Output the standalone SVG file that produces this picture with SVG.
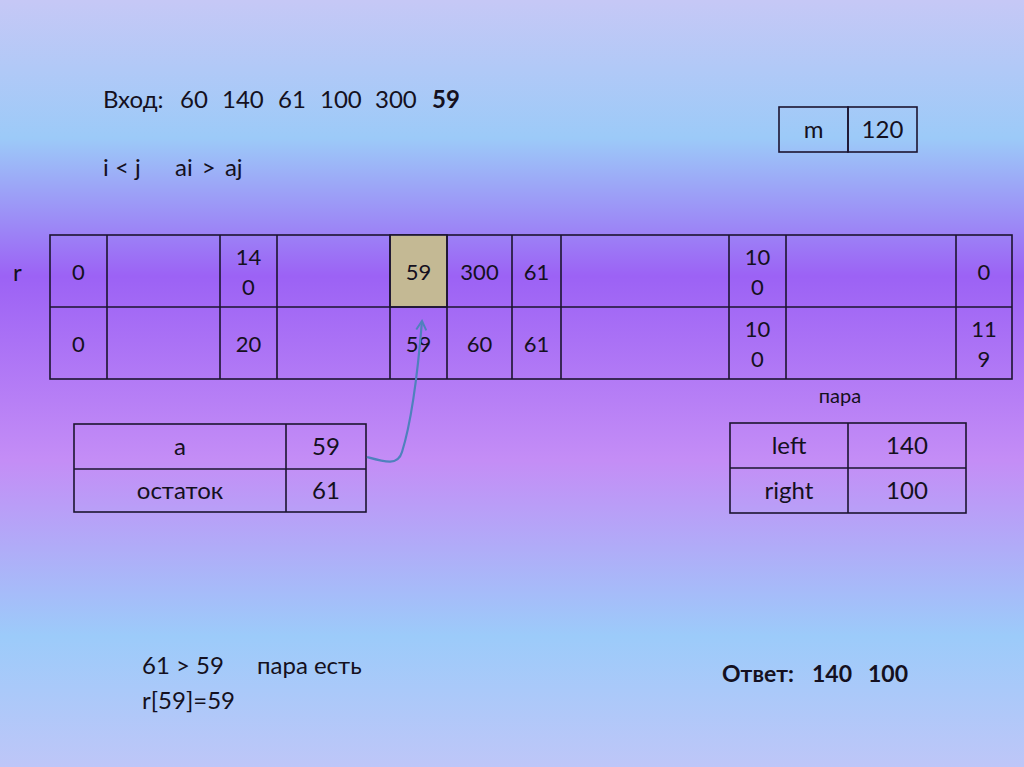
<svg xmlns="http://www.w3.org/2000/svg" width="1024" height="767" viewBox="0 0 1024 767">
<defs>
<linearGradient id="bg" x1="0" y1="0" x2="0" y2="1">
<stop offset="0" stop-color="#c6c8f6"/>
<stop offset="0.18" stop-color="#9ccaf8"/>
<stop offset="0.36" stop-color="#9c62f5"/>
<stop offset="0.60" stop-color="#c48df6"/>
<stop offset="0.83" stop-color="#9ccbfa"/>
<stop offset="1" stop-color="#bec6f8"/>
</linearGradient>
<marker id="ah" viewBox="0 0 12 12" refX="10" refY="6" markerWidth="12" markerHeight="12" markerUnits="userSpaceOnUse" orient="auto">
<path d="M1,1 L10,6 L1,11" fill="none" stroke="#4f81bd" stroke-width="2"/>
</marker>
<style>
text{font-family:Lato,"Open Sans","Liberation Sans",sans-serif;fill:#141020}
.cell{fill:none;stroke:#1c1430;stroke-width:1.6}
.hl{fill:#c4b994;stroke:#1c1430;stroke-width:1.6}
.c{font-size:22px;text-anchor:middle}
.t{font-size:24px;text-anchor:middle}
.h{font-size:24px}
.f{font-size:24px}
.b{font-weight:bold}
.conn{fill:none;stroke:#4f81bd;stroke-width:2.2}
</style>
</defs>
<rect x="0" y="0" width="1024" height="767" fill="url(#bg)"/>

<g id="header">
<text class="h" y="108"><tspan x="103">Вход:</tspan><tspan x="180">60</tspan><tspan x="222">140</tspan><tspan x="278">61</tspan><tspan x="320">100</tspan><tspan x="375">300</tspan><tspan x="432" font-weight="bold">59</tspan></text>
<text class="h" y="176"><tspan x="103">i &lt; j</tspan><tspan x="175" word-spacing="3">ai &gt; aj</tspan></text>
</g>

<g id="m-table">
<rect class="cell" x="779" y="107" width="69" height="45"/>
<rect class="cell" x="848" y="107" width="69" height="45"/>
<text class="t" x="813.5" y="138">m</text>
<text class="t" x="882.5" y="138">120</text>
</g>

<g id="r-label">
<text style="font-size:24px" x="13" y="281">r</text>
</g>

<g id="r-table">
<rect class="cell" x="50" y="235" width="962" height="144"/>
<rect class="hl" x="390" y="235" width="57" height="72"/>
<path class="cell" d="M50,307H1012M107,235V379M220,235V379M277,235V379M390,235V379M447,235V379M512,235V379M561,235V379M729,235V379M786,235V379M956,235V379"/>
<text class="c" x="78.5" y="280">0</text>
<text class="c" x="248.5" y="265">14</text>
<text class="c" x="248.5" y="295">0</text>
<text class="c" x="418.5" y="280">59</text>
<text class="c" x="479.5" y="280">300</text>
<text class="c" x="536.5" y="280">61</text>
<text class="c" x="757.5" y="265">10</text>
<text class="c" x="757.5" y="295">0</text>
<text class="c" x="984" y="280">0</text>
<text class="c" x="78.5" y="352">0</text>
<text class="c" x="248.5" y="352">20</text>
<text class="c" x="418.5" y="352">59</text>
<text class="c" x="479.5" y="352">60</text>
<text class="c" x="536.5" y="352">61</text>
<text class="c" x="757.5" y="337">10</text>
<text class="c" x="757.5" y="367">0</text>
<text class="c" x="984" y="337">11</text>
<text class="c" x="984" y="367">9</text>
</g>

<g id="a-table">
<rect class="cell" x="74" y="424" width="292" height="88"/>
<path class="cell" d="M74,469H366M286,424V512"/>
<text class="t" x="180" y="455">a</text>
<text class="t" x="326" y="455">59</text>
<text class="t" x="180" y="499">остаток</text>
<text class="t" x="326" y="499">61</text>
</g>

<g id="pair-table">
<text style="font-size:20px;text-anchor:middle" x="840" y="403">пара</text>
<rect class="cell" x="730" y="423" width="236" height="90"/>
<path class="cell" d="M730,468H966M848,423V513"/>
<text class="t" x="789" y="454">left</text>
<text class="t" x="907" y="454">140</text>
<text class="t" x="789" y="499">right</text>
<text class="t" x="907" y="499">100</text>
</g>

<g id="connectors">
<path class="conn" d="M367,457 C385,462 398,466 402,452 C412,420 418,370 422,321" marker-end="url(#ah)"/>
</g>

<g id="footer">
<text class="f" y="674"><tspan x="142">61 &gt; 59</tspan><tspan x="257">пара есть</tspan></text>
<text class="f" x="142" y="709">r[59]=59</text>
<text class="f b" style="font-size:23px" y="682"><tspan x="722">Ответ:</tspan><tspan x="812">140</tspan><tspan x="868">100</tspan></text>
</g>
</svg>
